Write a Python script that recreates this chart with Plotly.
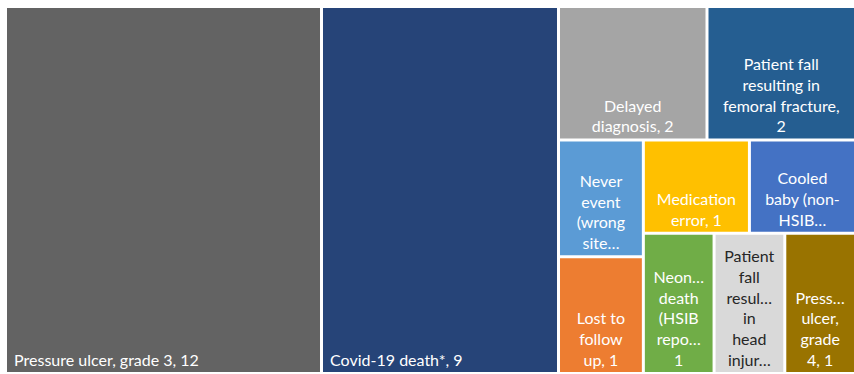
import plotly.graph_objects as go

# ---- data ----
big_labels = ["Pressure ulcer, grade 3", "Covid-19 death*"]
big_values = [12, 9]
big_text = ["\u00a0Pressure ulcer, grade 3, 12", "\u00a0Covid-19 death*, 9"]
big_colors = ["#636363", "#264478"]

small_labels = [
    "Delayed diagnosis", "Patient fall resulting in femoral fracture",
    "Never event (wrong site)", "Lost to follow up",
    "Medication error", "Cooled baby (non-HSIB)",
    "Neonatal death (HSIB reported)", "Patient fall resulting in head injury",
    "Pressure ulcer, grade 4",
]
small_values = [2, 2, 1, 1, 1, 1, 1, 1, 1]
small_text = [
    "Delayed<br>diagnosis, 2",
    "Patient fall<br>resulting in<br>femoral fracture,<br>2",
    "Never<br>event<br>(wrong<br>site…",
    "Lost to<br>follow<br>up, 1",
    "Medication<br>error, 1",
    "Cooled<br>baby (non-<br>HSIB…",
    "Neon…<br>death<br>(HSIB<br>repo…<br>1",
    "Patient<br>fall<br>resul…<br>in<br>head<br>injur…",
    "Press…<br>ulcer,<br>grade<br>4, 1",
]
small_colors = ["#A5A5A5", "#255E91", "#5B9BD5", "#ED7D31", "#FFC000",
                "#4472C4", "#70AD47", "#D9D9D9", "#997300"]
small_font_colors = ["white"] * 7 + ["#262626", "white"]

W, H = 854, 374
FONT = "Lato"
FS = 16

fig = go.Figure()
fig.add_trace(go.Treemap(
    labels=big_labels, parents=[""] * len(big_labels), values=big_values,
    text=big_text, textinfo="text", textposition="bottom left",
    sort=False, branchvalues="total",
    marker=dict(colors=big_colors, line=dict(width=0),
                pad=dict(t=0, l=0, r=0, b=0)),
    tiling=dict(pad=3),
    pathbar=dict(visible=False),
    textfont=dict(family=FONT, size=FS, color="white"),
    domain=dict(x=[7 / W, 557 / W], y=[2 / H, 1 - 8 / H]),
    hoverinfo="label+value",
))
fig.add_trace(go.Treemap(
    labels=small_labels, parents=[""] * len(small_labels), values=small_values,
    text=small_text, textinfo="text", textposition="bottom center",
    sort=False, branchvalues="total",
    marker=dict(colors=small_colors, line=dict(width=0),
                pad=dict(t=0, l=0, r=0, b=0)),
    tiling=dict(pad=3),
    pathbar=dict(visible=False),
    textfont=dict(family=FONT, size=FS, color=small_font_colors),
    domain=dict(x=[560 / W, 1.0], y=[2 / H, 1 - 8 / H]),
    hoverinfo="label+value",
))
fig.update_layout(
    width=W, height=H,
    margin=dict(l=0, r=0, t=0, b=0),
    paper_bgcolor="white",
    uniformtext=dict(minsize=FS, mode="show"),
    font=dict(family=FONT),
)
fig.write_html("out.html")
